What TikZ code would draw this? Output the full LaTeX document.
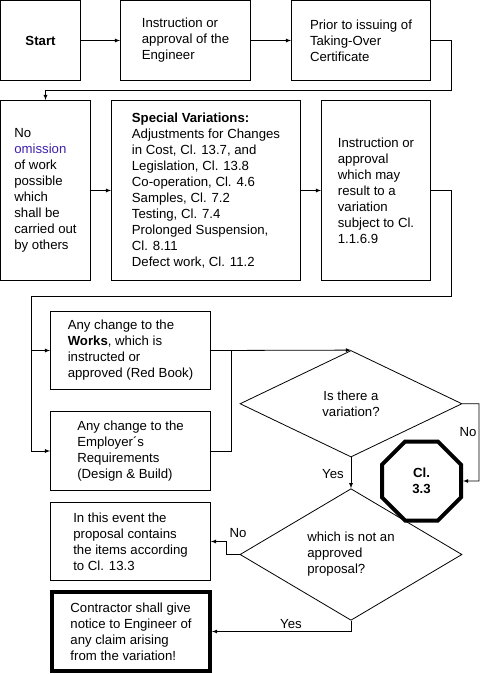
\documentclass[tikz,border=0pt]{standalone}
\usepackage{fontspec}
\setmainfont{Liberation Sans}
\usepackage{xcolor}
\usepackage{tikz}
\usetikzlibrary{shapes.geometric}
\usetikzlibrary{positioning}
\definecolor{lila}{RGB}{64,32,170}
\tikzset{
  Kasten/.style={draw, line width=.8pt, align=left, inner sep=0pt}, % Rechtecke
  Raute/.style={draw, diamond, line width=.8pt, inner sep=0pt}, % Entscheidungen
  Pfeil/.style={line width=.8pt,->}, % Verbindungen
  Beschr/.style={inner sep=0pt} % Ja/Nein
}
\begin{document}
\begin{tikzpicture}[x=1pt,y=-1pt,
font=\fontsize{13.2}{16}\selectfont,
>=latex % Pfeilspitzen
]
\useasboundingbox (0,0) rectangle (482,674);

%Kaesten oben
\node[Kasten, minimum width=80, minimum height=80, align=center] (Start) at (40.5,40.5) {\textbf{Start}};
\node[Kasten, minimum width=130, minimum height=80] (Anweisung) at (185.5,40.5) {Instruction or\\approval of the\\Engineer};
\node[Kasten, minimum width=139, minimum height=80] (Abnahme) at (361,40.5) {Prior to issuing of\\Taking-Over\\Certificate};

%Kaesten Mitte
\node[Kasten, minimum width=90, minimum height=180] (Entfall) at (45.5,190.5) {No\\\textcolor{lila}{omission}\\of work\\possible\\which\\shall be\\carried out\\by others};
\node[Kasten, minimum width=189, minimum height=180] (Sonder) at (206,190.5) {\textbf{Special Variations:}\\Adjustments for Changes\\in Cost, Cl. 13.7, and\\Legislation, Cl. 13.8\\Co-operation, Cl. 4.6\\Samples, Cl. 7.2\\Testing, Cl. 7.4\\Prolonged Suspension,\\Cl. 8.11\\Defect work, Cl. 11.2};
\node[Kasten, minimum width=109, minimum height=180] (Freigabe) at (376,190.5) {Instruction or\\approval\\which may\\result to a\\variation\\subject to Cl.\\1.1.6.9};

%Kaesten unten
\node[Kasten, minimum width=160, minimum height=78] (Works) at (130.5,350.5) {Any change to the\\\textbf{Works}, which is\\instructed or\\approved (Red Book)};
\node[Kasten, minimum width=160, minimum height=79] (Employer) at (130.5,451) {Any change to the\\Employer´s\\Requirements\\(Design \& Build)};
\node[Kasten, minimum width=160, minimum height=78] (Angebot) at (130.5,541.5) {In this event the\\proposal contains\\the items according\\to Cl. 13.3};
\node[Kasten, line width=4pt, minimum width=158, minimum height=79] (Anzeige) at (131,631.5) {Contractor shall give\\notice to Engineer of\\any claim arising\\from the variation!};

%Entscheidungen
\node[Raute, minimum width=222, minimum height=106.5, align=center] (Frage1) at (351,403.75) {Is there a\\variation?};
\node[Raute, minimum width=222, minimum height=105, align=left] (Frage2) at (351,554.5) {which is not an\\approved\\proposal?};
\node[draw, regular polygon, regular polygon sides=8, line width=4pt, minimum size=85.5, inner sep=0pt, align=center] (Klausel) at (421.5,481) {\textbf{Cl.}\\\textbf{3.3}};

%Hilfspunkte
\coordinate (k1) at (451,90);
\coordinate (k2) at (451,296);
\coordinate (k3) at (31,296);
\coordinate (k4) at (231,350.5);
\coordinate (k5) at (479,481);
\coordinate (k6) at (226,554.5);

%Verbindungen
\draw[Pfeil] (Start.east) -- (Anweisung.west);
\draw[Pfeil] (Anweisung.east) -- (Abnahme.west);
\draw[Pfeil] (Abnahme.east) -| (k1) -| (Entfall.north);
\draw[Pfeil] (Entfall.east) -- (Sonder.west);
\draw[Pfeil] (Sonder.east) -- (Freigabe.west);
\draw[Pfeil] (Freigabe.east) -| (k2) -- (k3) |- (Employer.west);
\draw[Pfeil] (k3 |- Works.west) -- (Works.west);
\draw[Pfeil] (Works.east) -- (Frage1.north);
\draw[line width=.8pt] (Employer.east) -| (k4);
\draw[Pfeil] (Frage1.east) -| (k5) -- (Klausel.east);
\draw[Pfeil] (Frage1.south) -- (Frage2.north);
\draw[Pfeil] (Frage2.west) -- (k6) |- (Angebot.east);
\draw[Pfeil] (Frage2.south) |- (Anzeige.east);

%Beschriftungen
\node[Beschr] (nein1) at (468,432) {No};
\node[Beschr] (ja1) at (333,474) {Yes};
\node[Beschr] (nein2) at (238,533) {No};
\node[Beschr] (ja2) at (291,624) {Yes};
\end{tikzpicture}
\end{document}
